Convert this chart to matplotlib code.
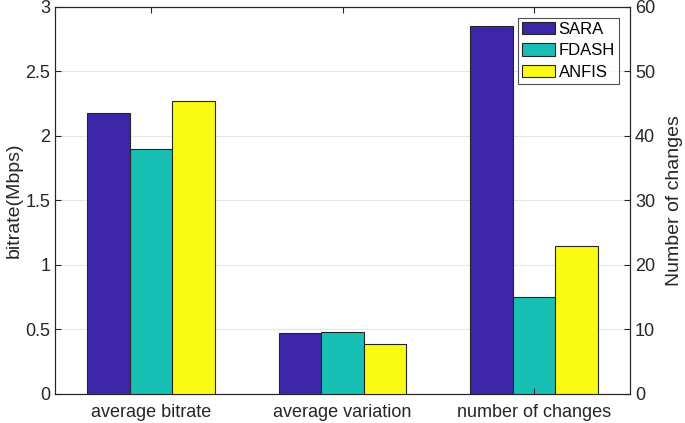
import numpy as np
import matplotlib
matplotlib.use("Agg")
import matplotlib.pyplot as plt

plt.rcParams['font.family'] = ['Liberation Sans', 'DejaVu Sans']

categories = ['average bitrate', 'average variation', 'number of changes']
algorithms = ['SARA', 'FDASH', 'ANFIS']
colors = ['#3e26a8', '#17bfb5', '#f9fb15']

# left axis: bitrate (Mbps) for the first two groups
bitrate = {
    'SARA': [2.18, 0.475],
    'FDASH': [1.90, 0.48],
    'ANFIS': [2.27, 0.385],
}
# right axis: number of changes
changes = {
    'SARA': 57,
    'FDASH': 15,
    'ANFIS': 23,
}

fig = plt.figure(figsize=(6.85, 4.23), dpi=100)
ax = fig.add_axes([0.0803, 0.0686, 0.8394, 0.9149])
ax2 = ax.twinx()

x = np.arange(1, len(categories) + 1)
w = 0.222
edge = '#262626'

for i, alg in enumerate(algorithms):
    off = (i - 1) * w
    ax.bar(x[:2] + off, bitrate[alg], width=w, color=colors[i],
           edgecolor=edge, linewidth=0.8, label=alg, zorder=3)
    ax2.bar(x[2] + off, changes[alg], width=w, color=colors[i],
            edgecolor=edge, linewidth=0.8, zorder=3)

ax.set_xlim(0.5, 3.5)
ax.set_ylim(0, 3)
ax2.set_ylim(0, 60)
ax.set_yticks(np.arange(0, 3.01, 0.5))
ax.set_yticklabels(['0', '0.5', '1', '1.5', '2', '2.5', '3'])
ax2.set_yticks(np.arange(0, 61, 10))
ax.set_xticks(x)
ax.set_xticklabels(categories)

# grid on the lower (right) axes so it stays behind every bar
ax2.yaxis.grid(True, color='#e6e6e6', linewidth=0.8, zorder=0)
ax2.set_axisbelow(True)

for a in (ax, ax2):
    a.tick_params(direction='in', labelsize=13, colors='#262626', length=4,
                  top=True)
    for s in a.spines.values():
        s.set_color('#262626')
        s.set_linewidth(0.8)
ax.tick_params(axis='x', pad=7)

ax.set_ylabel('bitrate(Mbps)', fontsize=14, color='#262626', labelpad=2)
ax2.set_ylabel('Number of changes', fontsize=14, color='#262626', labelpad=8)

leg = ax.legend(loc='upper right', bbox_to_anchor=(0.981, 0.972), fontsize=12,
                frameon=True, fancybox=False, edgecolor='#262626',
                handlelength=2.0, handleheight=0.75, handletextpad=0.2,
                labelspacing=0.38, borderpad=0.25, borderaxespad=0)
leg.get_frame().set_linewidth(0.8)
leg.set_zorder(10)
ax.set_zorder(ax2.get_zorder() + 1)
ax.patch.set_visible(False)

fig.savefig('out.png', dpi=100)
